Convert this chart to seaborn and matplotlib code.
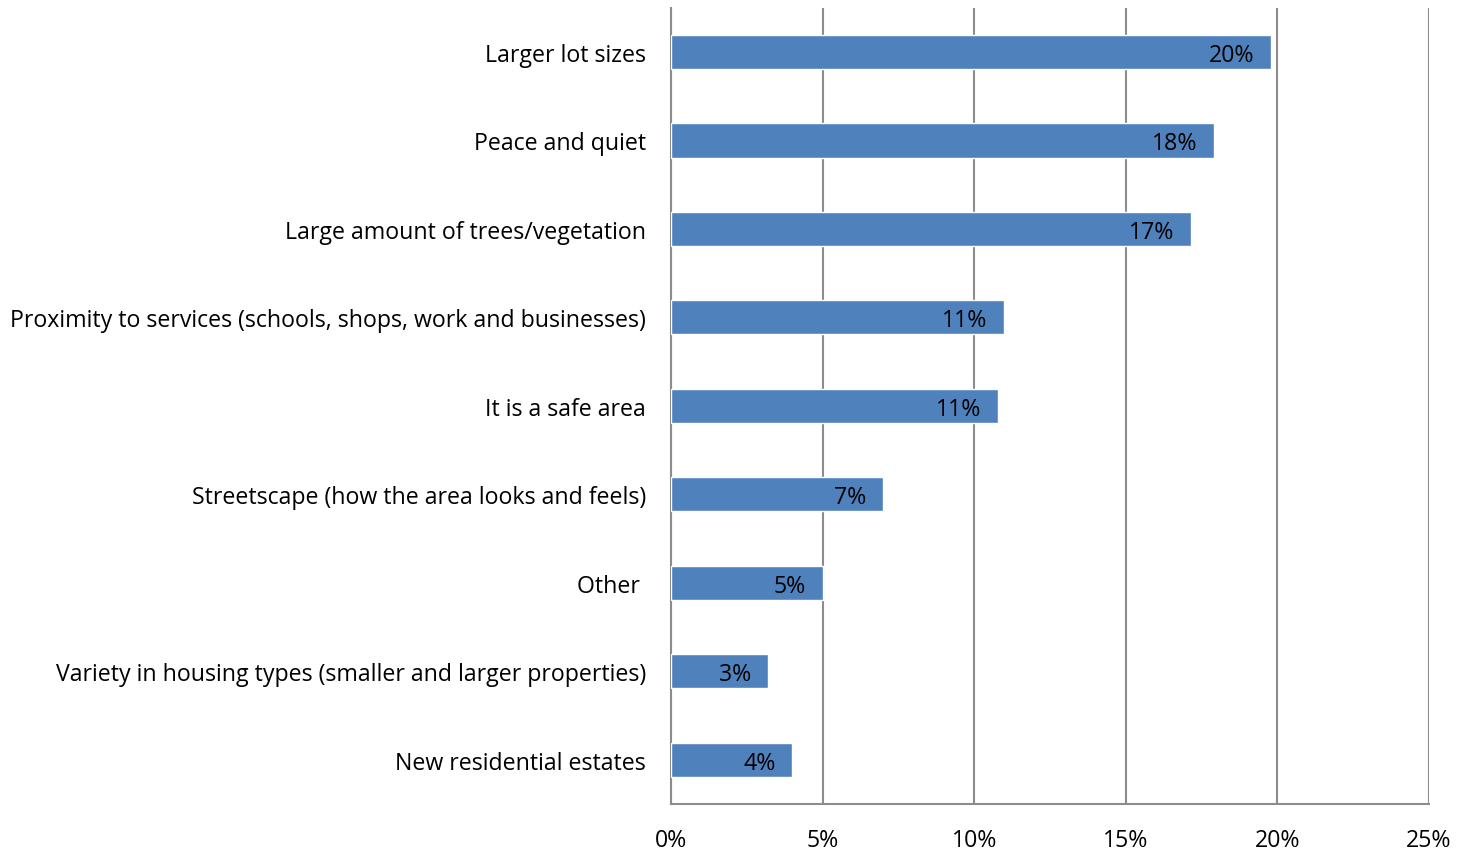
import matplotlib
matplotlib.use("Agg")
import matplotlib.pyplot as plt
import seaborn as sns
import pandas as pd

categories = [
    "Larger lot sizes",
    "Peace and quiet",
    "Large amount of trees/vegetation",
    "Proximity to services (schools, shops, work and businesses)",
    "It is a safe area",
    "Streetscape (how the area looks and feels)",
    "Other ",
    "Variety in housing types (smaller and larger properties)",
    "New residential estates",
]
values = [19.8, 17.9, 17.15, 11.0, 10.8, 7.0, 5.0, 3.2, 4.0]
bar_labels = ["20%", "18%", "17%", "11%", "11%", "7%", "5%", "3%", "4%"]
x_ticks = [0, 5, 10, 15, 20, 25]

sns.set_style("white")
plt.rcParams["font.family"] = ["Open Sans", "DejaVu Sans"]

df = pd.DataFrame({"reason": categories, "pct": values})

fig = plt.figure(figsize=(14.72, 8.53), dpi=100)
ax = fig.add_axes([0.4558, 0.0563, 0.5150, 0.9334])

sns.barplot(data=df, x="pct", y="reason", orient="h", color="#4F81BD",
            saturation=1, width=0.385, ax=ax, zorder=3)

for patch, lab in zip(ax.patches, bar_labels):
    ax.text(patch.get_width() - 0.55, patch.get_y() + patch.get_height() / 2, lab,
            ha="right", va="center_baseline", fontsize=16.7, color="black", zorder=4)

ax.set_xlim(0, 25)
ax.set_ylim(len(categories) - 0.5, -0.5)
ax.set_xticks(x_ticks)
ax.set_xticklabels([f"{t}%" for t in x_ticks])
ax.set_xlabel("")
ax.set_ylabel("")
ax.xaxis.grid(True, color="#8C8C8C", linewidth=1.5, zorder=0)
ax.yaxis.grid(False)
ax.set_axisbelow(True)
ax.tick_params(axis="both", length=0, labelsize=16.7, colors="black")
ax.tick_params(axis="y", pad=18)
ax.tick_params(axis="x", pad=17)

for side in ["top", "right"]:
    ax.spines[side].set_visible(False)
for side in ["left", "bottom"]:
    ax.spines[side].set_color("#8C8C8C")
    ax.spines[side].set_linewidth(1.5)

fig.savefig("out.png", dpi=100)
